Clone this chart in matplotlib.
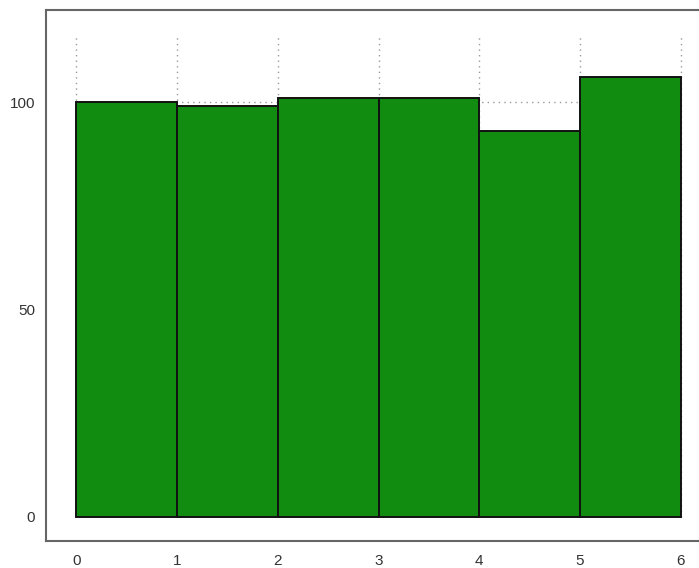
import matplotlib.pyplot as plt

# bar data
edges = [0, 1, 2, 3, 4, 5, 6]
heights = [100, 99, 101, 101, 93, 106]
xticks = [0, 1, 2, 3, 4, 5, 6]
yticks = [0, 50, 100]

plt.rcParams['font.family'] = ['Liberation Sans', 'DejaVu Sans']

fig = plt.figure(figsize=(6.99, 5.68), dpi=100)
ax = fig.add_axes([0.0658, 0.0475, 0.937, 0.935])

# grid (dotted, behind bars)
ax.vlines(xticks, 0, 116.5, colors='#999999', linestyles=(0, (1, 3)), linewidth=1, zorder=1)
ax.hlines([100], edges[0], edges[-1], colors='#999999', linestyles=(0, (1, 3)), linewidth=1, zorder=1)

widths = [edges[i + 1] - edges[i] for i in range(len(heights))]
ax.bar(edges[:-1], heights, width=widths, align='edge', color='#118c11',
       edgecolor='#111111', linewidth=1.4, zorder=2)

ax.set_xlim(-0.30, 6.2)
ax.set_ylim(-5.8, 122.2)
ax.set_xticks(xticks)
ax.set_yticks(yticks)
ax.tick_params(length=0, labelsize=11, colors='#333333')
ax.tick_params(axis='x', pad=9)
ax.tick_params(axis='y', pad=8)

for side in ['left', 'bottom', 'top']:
    ax.spines[side].set_color('#666666')
    ax.spines[side].set_linewidth(1.5)
ax.spines['right'].set_visible(False)

fig.savefig('out.png', dpi=100)
